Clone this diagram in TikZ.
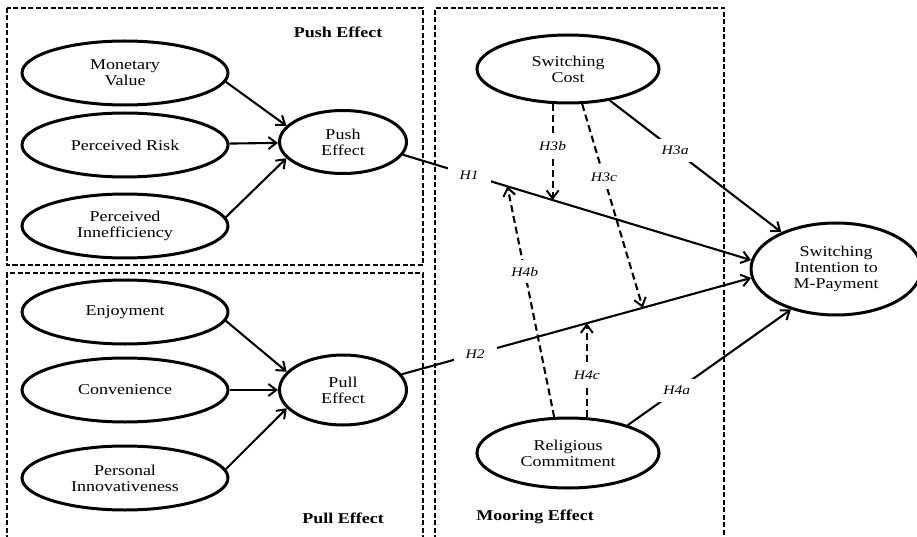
\documentclass[tikz,border=0pt]{standalone}
\usepackage{fontspec}
\setmainfont{Liberation Serif}[FakeStretch=1.2]
\usetikzlibrary{positioning, arrows.meta, shapes.geometric}

\begin{document}
\begin{tikzpicture}[
      x=1pt, y=-1pt,
      font=\fontsize{15}{16}\selectfont,
      var/.style  = {ellipse, draw, line width=3pt, inner sep=0pt,
                     minimum width=206pt, minimum height=64pt, align=center},
      grp/.style  = {draw, line width=1.8pt, dash pattern=on 5pt off 2.5pt},
      arr/.style  = {-{Straight Barb[length=8pt, width=12pt, line width=2pt]},
                     line width=2.1pt},
      darr/.style = {arr, dash pattern=on 7pt off 4pt},
      hyp/.style  = {fill=white, inner xsep=12pt, inner ysep=7pt,
                     font=\fontsize{13}{13}\selectfont\itshape},
      ttl/.style  = {font=\fontsize{15}{16}\selectfont\bfseries},
    ]
    \useasboundingbox (0,0) rectangle (917,537);

    % Group frames
    \draw[grp] (7,8) rectangle (423,265);
    \draw[grp] (7,540) -- (7,273) -- (423,273) -- (423,540);
    \draw[grp] (435,540) -- (435,8) -- (724,8) -- (724,540);

    \node[ttl] (tpush) at (338,32)  {Push Effect};
    \node[ttl] (tpull) at (343,518) {Pull Effect};
    \node[ttl] (tmoor) at (535,517) {Mooring Effect};

    % Push side
    \node[var] (mv)  at (125,73)  {Monetary\\Value};
    \node[var] (pr)  at (125,145) {Perceived Risk};
    \node[var] (pin) at (125,226) {Perceived\\Innefficiency};
    \node[var, minimum width=127pt, minimum height=63pt] (push) at (343,142)
          {Push\\Effect};

    % Pull side
    \node[var] (enj) at (125,312) {Enjoyment};
    \node[var] (con) at (125,390) {Convenience};
    \node[var] (inn) at (125,478) {Personal\\Innovativeness};
    \node[var, minimum width=127pt, minimum height=70pt] (pull) at (343,390)
          {Pull\\Effect};

    % Mooring side and outcome
    \node[var, minimum width=182pt, minimum height=68pt] (sc) at (568,69)
          {Switching\\Cost};
    \node[var, minimum width=182pt, minimum height=70pt] (rc) at (568,453)
          {Religious\\Commitment};
    \node[var, minimum width=170pt, minimum height=92pt] (si) at (836,269)
          {Switching\\Intention to\\M-Payment};

    % Antecedent arrows
    \draw[arr] (mv.-5)  -- (push.164);
    \draw[arr] (pr)     -- (push);
    \draw[arr] (pin.5)  -- (push.196);
    \draw[arr] (enj.-5) -- (pull.162);
    \draw[arr] (con)    -- (pull);
    \draw[arr] (inn.5)  -- (pull.198);

    % Main paths
    \draw[arr] (push.-12) -- node[hyp, pos=0.19] {H1}
          coordinate[pos=0.43] (h1b) coordinate[pos=0.30] (h1c) (si.174);
    \draw[arr] (pull.15) -- node[hyp, pos=0.21] {H2}
          coordinate[pos=0.69] (h2b) coordinate[pos=0.53] (h2c) (si.186);
    \draw[arr] (sc.-37) -- node[hyp, pos=0.38] {H3a} (si.146);
    \draw[arr] (rc.25)  -- node[hyp, pos=0.30] {H4a} (si.222);

    % Moderating arrows
    \draw[darr] (sc.south -| h1b) -- node[hyp, pos=0.44] {H3b} (h1b);
    \draw[darr] (sc.-68) -- node[hyp, pos=0.36] {H3c} (h2b);
    \draw[darr] (rc.111) -- node[hyp, pos=0.63] {H4b} (h1c);
    \draw[darr] (rc.north -| h2c) -- node[hyp, pos=0.44] {H4c} (h2c);
  \end{tikzpicture}
\end{document}
